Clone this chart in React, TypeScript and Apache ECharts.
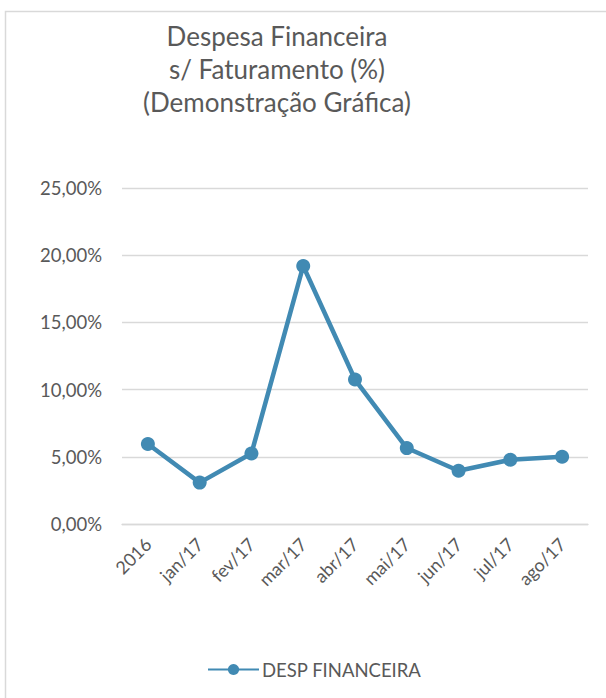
import React, { useEffect, useRef } from "react";
import * as echarts from "echarts";

const titleLines = ["Despesa Financeira", "s/ Faturamento (%)", "(Demonstração Gráfica)"];
const categories = ["2016", "jan/17", "fev/17", "mar/17", "abr/17", "mai/17", "jun/17", "jul/17", "ago/17"];
const seriesName = "DESP FINANCEIRA";
const values = [5.95, 3.08, 5.25, 19.2, 10.75, 5.65, 3.96, 4.78, 5.0];
const yMin = 0;
const yMax = 25;
const yInterval = 5;

const FONT = "Lato, 'Open Sans', sans-serif";
const TEXT = "#595959";
const BLUE = "#418ab3";

export default function App() {
  const ref = useRef<HTMLDivElement>(null);
  useEffect(() => {
    if (!ref.current) return;
    const chart = echarts.init(ref.current, undefined, { renderer: "svg" });
    chart.setOption({
      animation: false,
      backgroundColor: "#ffffff",
      textStyle: { fontFamily: FONT },
      graphic: [
        {
          type: "rect",
          shape: { x: 5.5, y: 11.5, width: 700, height: 700 },
          style: { fill: "none", stroke: "#d9d9d9", lineWidth: 1.5 },
          silent: true,
        },
        {
          type: "text",
          x: 277,
          y: 19,
          style: {
            text: titleLines.join("\n"),
            fill: TEXT,
            font: `26px ${FONT}`,
            lineHeight: 33,
            align: "center",
            textAlign: "center",
            verticalAlign: "top",
            textVerticalAlign: "top",
          },
        },
      ],
      legend: {
        left: 207,
        top: 660,
        padding: 0,
        itemWidth: 51,
        itemHeight: 14,
        textStyle: { color: TEXT, fontSize: 18.5, fontFamily: FONT, padding: [0, 0, 0, -2] },
        data: [seriesName],
      },
      grid: { left: 122, right: 18, top: 188, bottom: 174 },
      xAxis: {
        type: "category",
        data: categories,
        boundaryGap: true,
        axisLine: { lineStyle: { color: "#d9d9d9", width: 1.3 } },
        axisTick: { show: false },
        axisLabel: { rotate: 45, color: TEXT, fontSize: 18, fontFamily: FONT, margin: 17, interval: 0 },
      },
      yAxis: {
        type: "value",
        min: yMin,
        max: yMax,
        interval: yInterval,
        axisLine: { show: false },
        axisTick: { show: false },
        splitLine: { lineStyle: { color: "#d9d9d9", width: 1.3 } },
        axisLabel: {
          color: TEXT,
          fontSize: 18.5,
          fontFamily: FONT,
          margin: 20,
          formatter: (v: number) => v.toFixed(2).replace(".", ",") + "%",
        },
      },
      series: [
        {
          name: seriesName,
          type: "line",
          data: values,
          symbol: "circle",
          symbolSize: 14,
          lineStyle: { color: BLUE, width: 4.5 },
          itemStyle: { color: BLUE },
        },
      ],
    });
    return () => chart.dispose();
  }, []);
  return (
    <div
      ref={ref}
      style={{ position: "absolute", left: 0, top: 0, width: 606, height: 698 }}
    />
  );
}
